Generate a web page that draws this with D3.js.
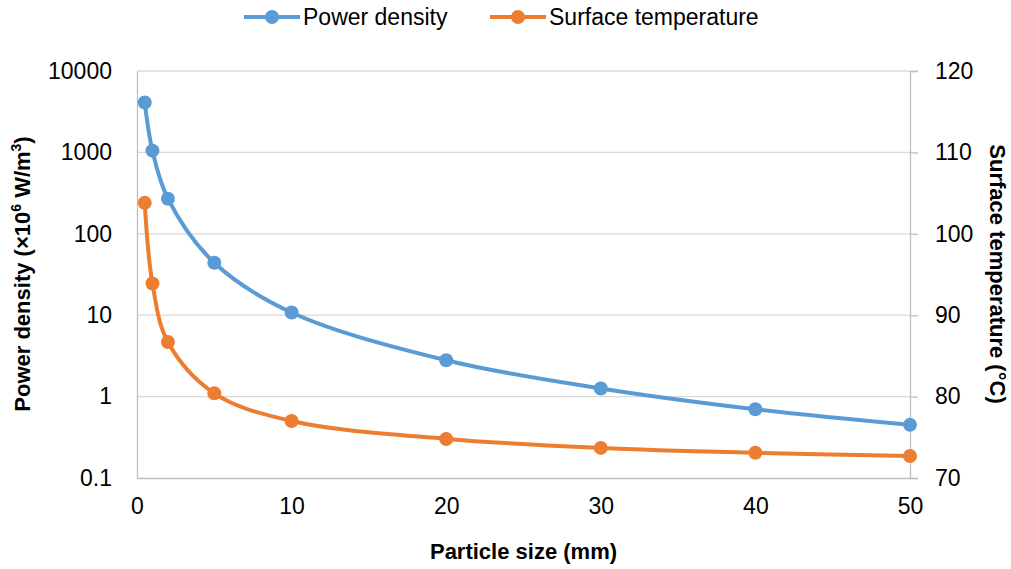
<!DOCTYPE html>
<html>
<head>
<meta charset="utf-8">
<script src="https://cdn.jsdelivr.net/npm/d3@7"></script>
<style>
body { margin: 0; background: #fff; }
text { font-family: "Liberation Sans", Arial, sans-serif; fill: #000; }
</style>
</head>
<body>
<div id="chart"></div>
<script>
// particle size vs power density (log, left) and surface temperature (right)
var sizes = [0.5, 1, 2, 5, 10, 20, 30, 40, 50]
var powerDensity = [4100, 1050, 270, 44, 10.8, 2.8, 1.26, 0.70, 0.45]
var surfaceTemp = [103.8, 93.9, 86.7, 80.4, 77.0, 74.8, 73.7, 73.1, 72.7]
var xTicks = [0, 10, 20, 30, 40, 50]
var leftTicks = [0.1, 1, 10, 100, 1000, 10000]
var rightTicks = [70, 80, 90, 100, 110, 120]

var width = 1011
var height = 569
var margin = ({ top: 71, right: 101, bottom: 91, left: 137 })

var svg = d3.select("#chart")
    .append("svg")
    .attr("width", width)
    .attr("height", height)

var x = d3.scaleLinear()
    .domain([0, 50])
    .range([margin.left, width - margin.right])

var yL = d3.scaleLog()
    .domain([0.1, 10000])
    .range([height - margin.bottom, margin.top])

var yR = d3.scaleLinear()
    .domain([70, 120])
    .range([height - margin.bottom, margin.top])

// gridlines
svg.append("g")
    .selectAll("line")
    .data(leftTicks.slice(1))
    .join("line")
    .attr("x1", margin.left)
    .attr("x2", width - margin.right)
    .attr("y1", d => yL(d))
    .attr("y2", d => yL(d))
    .attr("stroke", "#d9d9d9")
    .attr("stroke-width", 1.3)

// left axis
svg.append("g")
    .attr("transform", `translate(${margin.left},0)`)
    .call(d3.axisLeft(yL).tickValues(leftTicks).tickFormat(d => d3.format("")(d)).tickSize(0).tickPadding(25))
    .call(g => g.select(".domain").attr("stroke", "#bfbfbf").attr("stroke-width", 1.3))
    .call(g => g.selectAll("text").attr("font-size", 23))

// right axis
svg.append("g")
    .attr("transform", `translate(${width - margin.right},0)`)
    .call(d3.axisRight(yR).tickValues(rightTicks).tickSize(8).tickPadding(17))
    .call(g => g.select(".domain").attr("stroke", "#bfbfbf").attr("stroke-width", 1.3))
    .call(g => g.selectAll("line").attr("stroke", "#bfbfbf").attr("stroke-width", 1.3))
    .call(g => g.selectAll("text").attr("font-size", 23))

// bottom axis
svg.append("g")
    .attr("transform", `translate(0,${height - margin.bottom})`)
    .call(d3.axisBottom(x).tickValues(xTicks).tickSize(0).tickPadding(20))
    .call(g => g.select(".domain").attr("stroke", "#bfbfbf").attr("stroke-width", 1.3))
    .call(g => g.selectAll("text").attr("font-size", 23))

// lines
var lineL = d3.line()
    .x((d, i) => x(sizes[i]))
    .y(d => yL(d))
    .curve(d3.curveCatmullRom.alpha(0.5))

var lineR = d3.line()
    .x((d, i) => x(sizes[i]))
    .y(d => yR(d))
    .curve(d3.curveCatmullRom.alpha(0.5))

var blue = "#5b9bd5"
var orange = "#ed7d31"

svg.append("path")
    .attr("d", lineL(powerDensity))
    .attr("fill", "none")
    .attr("stroke", blue)
    .attr("stroke-width", 4)

svg.append("path")
    .attr("d", lineR(surfaceTemp))
    .attr("fill", "none")
    .attr("stroke", orange)
    .attr("stroke-width", 4)

svg.append("g")
    .selectAll("circle")
    .data(powerDensity)
    .join("circle")
    .attr("cx", (d, i) => x(sizes[i]))
    .attr("cy", d => yL(d))
    .attr("r", 7)
    .attr("fill", blue)

svg.append("g")
    .selectAll("circle")
    .data(surfaceTemp)
    .join("circle")
    .attr("cx", (d, i) => x(sizes[i]))
    .attr("cy", d => yR(d))
    .attr("r", 7)
    .attr("fill", orange)

// axis titles
svg.append("text")
    .attr("transform", "translate(30,274) rotate(-90)")
    .attr("text-anchor", "middle")
    .attr("font-size", 22)
    .attr("font-weight", "bold")
    .text("Power density (\u00d710")
    .call(t => t.append("tspan").attr("font-size", 14).attr("dy", -9).text("6"))
    .call(t => t.append("tspan").attr("dy", 9).text(" W/m"))
    .call(t => t.append("tspan").attr("font-size", 14).attr("dy", -9).text("3"))
    .call(t => t.append("tspan").attr("dy", 9).text(")"))

svg.append("text")
    .attr("transform", "translate(990,274) rotate(90)")
    .attr("text-anchor", "middle")
    .attr("font-size", 22)
    .attr("font-weight", "bold")
    .text("Surface temperature (\u00b0C)")

svg.append("text")
    .attr("x", (margin.left + width - margin.right) / 2)
    .attr("y", 559)
    .attr("text-anchor", "middle")
    .attr("font-size", 22)
    .attr("font-weight", "bold")
    .text("Particle size (mm)")

// legend
var legend = [
    { name: "Power density", color: blue, x: 244 },
    { name: "Surface temperature", color: orange, x: 490 }
]

var lg = svg.append("g")
    .selectAll("g")
    .data(legend)
    .join("g")
    .attr("transform", d => `translate(${d.x},17)`)

lg.append("line")
    .attr("x1", 0)
    .attr("x2", 56)
    .attr("stroke", d => d.color)
    .attr("stroke-width", 4)

lg.append("circle")
    .attr("cx", 28)
    .attr("r", 7)
    .attr("fill", d => d.color)

lg.append("text")
    .attr("x", 59)
    .attr("y", 8)
    .attr("font-size", 23)
    .text(d => d.name)
</script>
</body>
</html>
